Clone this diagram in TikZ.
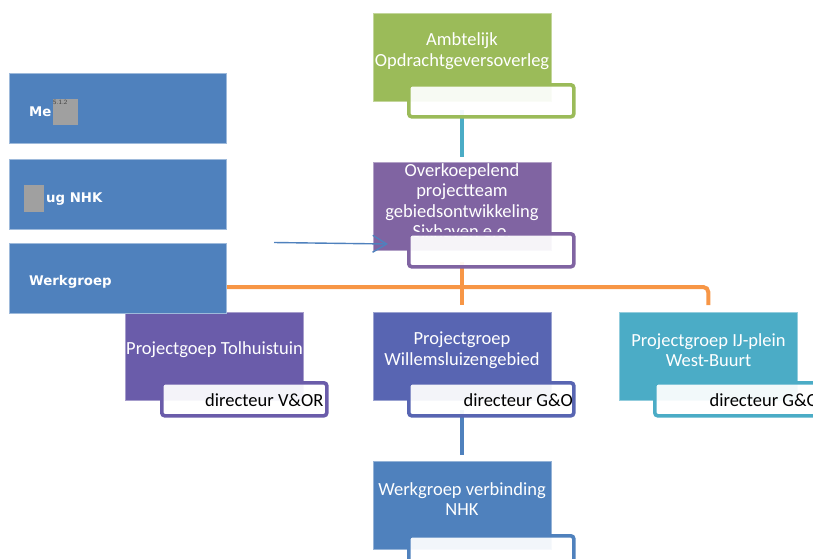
\documentclass[tikz,border=0pt]{standalone}
\usepackage{fontspec}
\setmainfont{Carlito}
\newfontfamily\djv{DejaVu Sans}
\usetikzlibrary{arrows.meta}
\definecolor{cgreen}{HTML}{9BBB59}
\definecolor{ccyan}{HTML}{4BACC6}
\definecolor{cpurple}{HTML}{8064A2}
\definecolor{corange}{HTML}{F79646}
\definecolor{cblue}{HTML}{4F81BD}
\definecolor{cviolet}{RGB}{106,92,170}
\definecolor{cslate}{RGB}{88,101,178}
\definecolor{cgray}{RGB}{160,160,160}
\begin{document}
\begin{tikzpicture}[x=1pt,y=-1pt,
  mainbox/.style={draw=#1!60!white, line width=0.6pt, fill=#1, minimum width=178pt, minimum height=88pt, inner sep=0pt, anchor=north west},
  sidebox/.style={draw=cblue!55!white, line width=0.6pt, fill=cblue, minimum width=217pt, minimum height=70pt, inner sep=0pt, anchor=north west},
  labelbox/.style={draw=#1, line width=3.6pt, rounded corners=3pt, fill=white, fill opacity=0.93, minimum width=165pt, minimum height=33pt, inner sep=0pt, anchor=north west},
  boxtext/.style={text=white, align=center, inner sep=0pt, font=\fontsize{18.5}{20.5}\selectfont},
  lbltext/.style={text=black, inner sep=0pt, anchor=east, font=\fontsize{18.5}{20.5}\selectfont},
  sidetext/.style={text=white, inner sep=0pt, anchor=west, font=\djv\bfseries\fontsize{13.3}{15}\selectfont},
  conn/.style={line width=4pt, draw=#1},
  redact/.style={fill=cgray, draw=none, inner sep=0pt, anchor=north west}
]
\useasboundingbox (0,0) rectangle (813,558);
\clip (0,0) rectangle (813,558);

% left boxes
\node[sidebox] (s1) at (9,73) {};
\node[sidebox] (s2) at (9,159) {};

% main boxes (nodes only, for connector anchors)
\node[mainbox=cgreen] (gbox) at (373,13) {};
\node[mainbox=cpurple] (pbox) at (373,162) {};
\node[mainbox=cviolet] (tbox) at (125,312) {};
\node[mainbox=cslate] (wbox) at (373,312) {};
\node[mainbox=ccyan] (ibox) at (619,312) {};
\node[mainbox=cblue] (vbox) at (373,461) {};

% connectors
\coordinate (ostart) at (200,287);
\draw[conn=ccyan, shorten >=5pt] (gbox.center |- 0,110) -- (pbox.north);
\draw[conn=corange, shorten >=7pt] (pbox.center |- 0,262) -- (wbox.north);
\draw[conn=corange, rounded corners=5pt, shorten >=7pt] (ostart) -- (ibox.north |- ostart) -- (ibox.north);
\draw[conn=cblue, shorten >=6pt] (wbox.center |- 0,410) -- (vbox.north);

\node[sidebox] (s3) at (9,243) {};

% texts in main boxes
\node[boxtext] (gtxt) at (462,51) {Ambtelijk\\Opdrachtgeversoverleg};
\node[boxtext] (ptxt) at (462,200.5) {Overkoepelend\\projectteam\\gebiedsontwikkeling\\Sixhaven e.o.};
\node[boxtext] (ttxt) at (214.5,350) {Projectgoep Tolhuistuin};
\node[boxtext] (wtxt) at (462,350) {Projectgroep\\Willemsluizengebied};
\node[boxtext] (itxt) at (708.5,350) {Projectgroep IJ-plein\\West-Buurt};
\node[boxtext] (vtxt) at (462,499) {Werkgroep verbinding\\NHK};

% label boxes
\node[labelbox=cgreen, minimum height=32pt] (glab) at (407,83) {};
\node[labelbox=cpurple] (plab) at (407,232) {};
\node[labelbox=cviolet] (tlab) at (160,381) {};
\node[labelbox=cslate] (wlab) at (407,381) {};
\node[labelbox=ccyan] (ilab) at (653,381) {};
\node[labelbox=cblue, minimum height=36pt] (vlab) at (407,534) {};

\node[lbltext] (tlt) at ([xshift=-5pt,yshift=-0.5pt]tlab.east) {directeur V\&OR};
\node[lbltext] (wlt) at ([xshift=-2.5pt,yshift=-0.5pt]wlab.east) {directeur G\&O};
\node[lbltext] (ilt) at ([xshift=-2.5pt,yshift=-0.5pt]ilab.east) {directeur G\&O};

% side texts
\node[sidetext] (s1t) at (29,112) {Me};
\node[redact, minimum width=25pt, minimum height=26pt] (r1) at (53,99) {};
\node[anchor=north west, inner sep=0pt, text=black!75, font=\sffamily\fontsize{6.5}{6.5}\selectfont] (r1t) at (53,99.5) {5.1.2};
\node[redact, minimum width=20pt, minimum height=27pt] (r2) at (24,185) {};
\node[sidetext] (s2t) at (46,199) {ug NHK};
\node[sidetext] (s3t) at (29,282) {Werkgroep};

% arrow
\coordinate (astart) at (274,242.5);
\coordinate (aend) at (388,244);
\draw[cblue, line width=1.4pt, -{Straight Barb[length=14pt,width=17pt]}] (astart) -- (aend);
\end{tikzpicture}
\end{document}
